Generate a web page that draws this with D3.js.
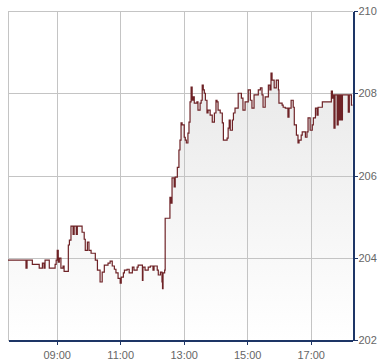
<!DOCTYPE html>
<html>
<head>
<meta charset="utf-8">
<script src="https://cdn.jsdelivr.net/npm/d3@7"></script>
<style>
  body { margin: 0; background: #fff; }
  #chart text { font-family: "Liberation Sans", Arial, sans-serif; font-size: 11px; fill: #666; }
</style>
</head>
<body>
<div id="chart"></div>
<script>
// intraday prices
const times = [
  "07:28","08:02","08:04","08:14","08:27","08:33","08:36","08:38","08:46","08:57",
  "08:59","09:01","09:03","09:05","09:08","09:12","09:14","09:22","09:24","09:27",
  "09:31","09:33","09:37","09:39","09:48","09:52","09:54","09:58","10:01","10:05",
  "10:13","10:17","10:22","10:26","10:30","10:37","10:41","10:45","10:49","10:52",
  "10:56","11:00","11:02","11:06","11:08","11:13","11:17","11:23","11:26","11:32",
  "11:34","11:42","11:43","11:47","11:53","11:57","12:02","12:04","12:10","12:12",
  "12:16","12:19","12:20","12:21","12:24","12:25","12:34","12:36","12:38","12:42",
  "12:44","12:48","12:51","12:53","12:55","12:57","13:01","13:03","13:05","13:08",
  "13:10","13:12","13:14","13:16","13:18","13:20","13:25","13:27","13:31","13:33",
  "13:35","13:37","13:39","13:41","13:44","13:46","13:50","13:54","13:58","14:01",
  "14:03","14:05","14:09","14:13","14:15","14:22","14:24","14:26","14:28","14:32",
  "14:34","14:37","14:43","14:49","14:52","14:56","15:02","15:06","15:09","15:13",
  "15:21","15:25","15:28","15:30","15:34","15:40","15:43","15:45","15:47","15:51",
  "15:55","15:59","16:00","16:06","16:08","16:12","16:17","16:19","16:23","16:27",
  "16:29","16:33","16:36","16:38","16:42","16:44","16:50","16:53","16:55","16:59",
  "17:03","17:05","17:09","17:12","17:14","17:22","17:39","17:41","17:43","17:44",
  "17:46","17:50","17:52","17:54","17:56","17:58","18:00","18:11","18:13","18:17",
  "18:19"
];
const prices = [
  203.94,203.75,203.94,203.84,203.75,203.87,203.75,203.94,203.75,203.84,
  203.94,204.18,203.89,203.99,203.75,203.80,203.67,204.31,204.43,204.77,
  204.57,204.77,204.57,204.77,204.62,204.45,204.18,204.38,204.18,204.11,
  203.94,203.70,203.41,203.65,203.82,203.87,203.92,203.80,203.72,203.63,
  203.50,203.38,203.53,203.63,203.70,203.72,203.63,203.77,203.70,203.77,
  203.82,203.45,203.77,203.70,203.77,203.80,203.70,203.80,203.70,203.58,
  203.65,203.41,203.25,203.63,203.70,204.96,205.47,205.33,205.94,205.72,
  205.96,206.20,206.62,206.86,207.28,207.23,206.93,206.86,206.79,207.03,
  207.30,207.79,208.15,207.83,207.91,207.76,207.79,207.59,207.76,207.83,
  208.20,208.08,208.00,207.83,207.52,207.59,207.47,207.30,207.52,207.83,
  207.79,207.59,207.52,207.28,206.86,206.91,207.15,207.35,207.10,207.35,
  207.52,207.64,208.00,207.88,207.59,207.79,208.08,207.83,207.64,207.96,
  208.08,208.13,207.96,207.66,207.91,208.20,208.08,208.49,208.32,208.13,
  208.32,208.08,207.76,207.71,207.66,207.64,207.42,207.64,207.83,207.66,
  207.23,206.98,206.79,206.86,206.98,207.06,206.93,207.06,207.40,207.10,
  207.23,207.40,207.64,207.47,207.66,207.79,208.05,207.88,207.96,207.15,
  207.96,207.23,207.96,207.35,207.96,207.35,207.96,207.54,207.96,207.71,
  207.71
];
const timeTicks = ["09:00","11:00","13:00","15:00","17:00"];
const priceTicks = [202, 204, 206, 208, 210];
const timeStart = "07:28";
const timeEnd = "18:19";

const width = 390, height = 364;
const plotLeft = 8, plotRight = 352.5, plotTop = 11, plotBottom = 340;
const lineColor = "#6e2226";
const axisColor = "#1d3566";
const gridColor = "#c4c4c4";

const parse = d3.timeParse("%H:%M");
const data = times.map((t, i) => ({ t: parse(t), v: prices[i] }));

const x = d3.scaleTime()
    .domain([parse(timeStart), parse(timeEnd)])
    .range([plotLeft, plotRight]);
const y = d3.scaleLinear()
    .domain([202, 210])
    .range([plotBottom, plotTop]);

const svg = d3.select("#chart")
    .append("svg")
    .attr("width", width)
    .attr("height", height);

const grad = svg.append("defs").append("linearGradient")
    .attr("id", "fillGrad")
    .attr("gradientUnits", "userSpaceOnUse")
    .attr("x1", 0).attr("x2", 0)
    .attr("y1", plotTop).attr("y2", plotBottom);
grad.append("stop").attr("offset", "0%").attr("stop-color", "#e4e4e4");
grad.append("stop").attr("offset", "100%").attr("stop-color", "#ffffff");

// area under the price
const area = d3.area()
    .curve(d3.curveStepAfter)
    .x(d => x(d.t))
    .y0(plotBottom)
    .y1(d => y(d.v));
svg.append("path")
    .datum(data)
    .attr("fill", "url(#fillGrad)")
    .attr("d", area);

// grid
const grid = svg.append("g").attr("shape-rendering", "crispEdges");
grid.selectAll(".vgrid")
    .data(timeTicks)
    .enter().append("line")
    .attr("x1", d => Math.round(x(parse(d))) + 0.5)
    .attr("x2", d => Math.round(x(parse(d))) + 0.5)
    .attr("y1", plotTop).attr("y2", plotBottom)
    .attr("stroke", gridColor);
grid.selectAll(".hgrid")
    .data(priceTicks)
    .enter().append("line")
    .attr("x1", plotLeft).attr("x2", plotRight)
    .attr("y1", d => Math.round(y(d)) + 0.5)
    .attr("y2", d => Math.round(y(d)) + 0.5)
    .attr("stroke", gridColor);
grid.append("line")
    .attr("x1", plotLeft + 0.5).attr("x2", plotLeft + 0.5)
    .attr("y1", plotTop).attr("y2", plotBottom)
    .attr("stroke", gridColor);

const line = d3.line()
    .curve(d3.curveStepAfter)
    .x(d => x(d.t))
    .y(d => y(d.v));
svg.append("path")
    .datum(data)
    .attr("fill", "none")
    .attr("stroke", lineColor)
    .attr("stroke-width", 1.2)
    .attr("d", line);

// axes
const xAxis = d3.axisBottom(x)
    .tickValues(timeTicks.map(parse))
    .tickFormat(d3.timeFormat("%H:%M"))
    .tickSize(4)
    .tickSizeOuter(0);
const gx = svg.append("g")
    .attr("transform", `translate(0,${Math.round(plotBottom) + 0.5})`)
    .call(xAxis);

const yAxis = d3.axisRight(y)
    .tickValues(priceTicks)
    .tickFormat(d3.format("d"))
    .tickSize(4)
    .tickPadding(1)
    .tickSizeOuter(0);
const gy = svg.append("g")
    .attr("transform", `translate(${Math.round(plotRight) + 0.5},0)`)
    .call(yAxis);

[gx, gy].forEach(g => {
    g.attr("shape-rendering", "crispEdges");
    g.select(".domain").attr("stroke", axisColor).attr("stroke-width", 1.5);
    g.selectAll(".tick line").attr("stroke", axisColor);
    g.selectAll("text").attr("font-family", null).attr("font-size", null);
});
gx.selectAll("text").attr("dy", "1.05em");
</script>
</body>
</html>
